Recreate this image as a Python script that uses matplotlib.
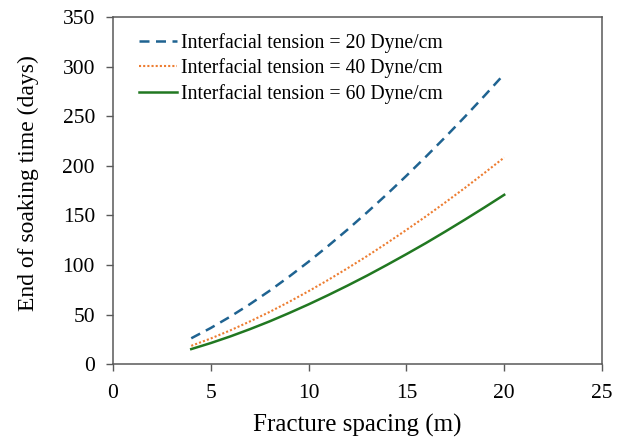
import matplotlib.pyplot as plt

plt.rcParams['font.family'] = ['Liberation Serif', 'DejaVu Serif']

spacing = [4, 5, 6, 7, 8, 9, 10, 11, 12, 13, 14, 15, 16, 17, 18, 19, 20]
soak_20 = [26.2, 36.6, 48.1, 60.6, 74.0, 88.3, 103.4, 119.3, 135.9, 153.3,
           171.3, 190.0, 209.3, 229.2, 249.7, 270.8, 292.5]
soak_40 = [18.6, 26.0, 34.2, 43.2, 52.7, 62.9, 73.7, 85.0, 96.9, 109.2,
           122.1, 135.4, 149.1, 163.3, 177.9, 193.0, 208.4]
soak_60 = [15.3, 21.4, 28.1, 35.4, 43.2, 51.6, 60.4, 69.7, 79.4, 89.5,
           100.1, 111.0, 122.2, 133.9, 145.9, 158.2, 170.8]


def main():
	fig = plt.figure(figsize=(6.23, 4.43), dpi=100)
	ax = fig.add_axes([0.1814, 0.1777, 0.7849, 0.7839])

	ax.plot(spacing, soak_20, color="#1F6391", lw=1.8, ls=(0, (4, 2.6)),
	        label="Interfacial tension = 20 Dyne/cm")
	ax.plot(spacing, soak_40, color="#ED7D31", lw=1.5, ls=(0, (1, 1)),
	        label="Interfacial tension = 40 Dyne/cm")
	ax.plot(spacing, soak_60, color="#217821", lw=1.8, ls="-",
	        label="Interfacial tension = 60 Dyne/cm")

	ax.set_xlim(0, 25)
	ax.set_ylim(0, 350)
	ax.set_xticks(range(0, 26, 5))
	ax.set_yticks(range(0, 351, 50))
	ax.tick_params(labelsize=15.5, direction="out", length=5, width=1,
	               color="#595959")
	ax.tick_params(axis="x", pad=9)
	ax.tick_params(axis="y", pad=8)
	for s in ax.spines.values():
		s.set_color("#595959")
		s.set_linewidth(1.1)
	ax.set_xlabel("Fracture spacing (m)", fontsize=18, labelpad=8)
	ax.set_ylabel("End of soaking time (days)", fontsize=17)
	ax.yaxis.set_label_coords(-0.174, 0.522)
	ax.yaxis.label.set_va("center")

	ax.legend(loc="upper left", frameon=False, fontsize=14.2, handlelength=1.95,
	          handletextpad=0.2, labelspacing=0.28, borderpad=0, borderaxespad=0,
	          bbox_to_anchor=(0.053, 0.954))

	fig.savefig("out.png", dpi=100)


if __name__ == "__main__":
	main()
